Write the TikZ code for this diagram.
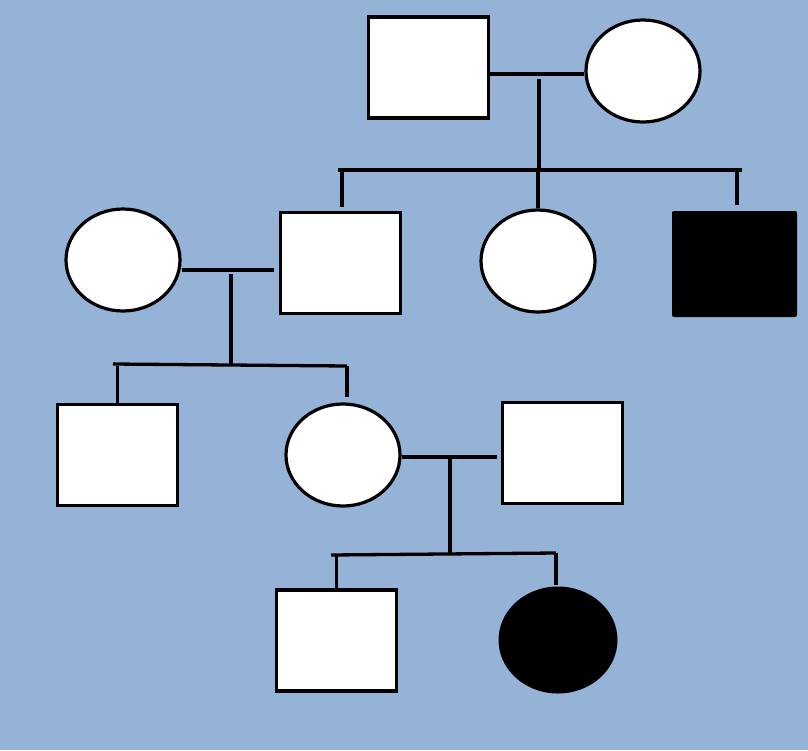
\documentclass[tikz,border=0pt]{standalone}
\usetikzlibrary{shapes.geometric}
\definecolor{bgblue}{RGB}{149,179,215}
\begin{document}
\begin{tikzpicture}[x=1pt,y=-1pt,
  line width=3.3pt,
  male/.style={draw=black,fill=white,rectangle,inner sep=0pt,minimum width=120pt,minimum height=101pt,line width=3.2pt},
  female/.style={draw=black,fill=white,ellipse,inner sep=0pt,minimum width=114pt,minimum height=102pt,line width=3.2pt},
  maleaff/.style={fill=black,rectangle,rounded corners=2pt,inner sep=0pt,minimum width=125pt,minimum height=106pt},
  femaleaff/.style={fill=black,ellipse,inner sep=0pt,minimum width=119pt,minimum height=107pt},
  link/.style={draw=black,line width=3.3pt}]
\fill[bgblue] (0,0) rectangle (808,750);
\useasboundingbox (0,0) rectangle (808,750);
% generation 1
\node[male] (A) at (428.5,67.5) {};
\node[female] (B) at (643,71) {};
% generation 2
\node[female] (C) at (123,260) {};
\node[male] (D) at (340.5,263) {};
\node[female] (E) at (538,261) {};
\node[maleaff] (F) at (734.5,264) {};
% generation 3
\node[male] (G) at (117.5,455) {};
\node[female] (H) at (343,455) {};
\node[male] (I) at (562.5,453) {};
% generation 4
\node[male] (J) at (336.5,640.5) {};
\node[femaleaff] (K) at (558,640) {};
% coordinates
\coordinate (m1) at (539,74);
\coordinate (p1) at (539,79);
\coordinate (s1a) at (338,170);
\coordinate (s1b) at (742,170);
\coordinate (m2) at (231,270);
\coordinate (p2) at (231,274);
\coordinate (s2a) at (113,364);
\coordinate (s2b) at (347,366);
\coordinate (m3) at (450,457);
\coordinate (p3) at (450,459);
\coordinate (s3a) at (331,555);
\coordinate (s3b) at (556,553);
% family 1
\draw[link] (A.east |- m1) -- (B.west |- m1);
\draw[link] (p1) -- (p1 |- s1a);
\draw[link] (s1a) -- (s1b);
\draw[link,shorten >=4pt] ([xshift=1.5pt]D.north |- s1a) -- ([xshift=1.5pt]D.north);
\draw[link] (E.north |- s1a) -- (E.north);
\draw[link,shorten >=4pt] ([xshift=2.5pt]F.north |- s1a) -- ([xshift=2.5pt]F.north);
% family 2
\draw[link,shorten >=5pt] (C.east |- m2) -- (D.west |- m2);
\draw[link] (p2) -- (p2 |- s2a);
\draw[link] (s2a) -- (s2b);
\draw[link] (G.north |- s2b) -- (G.north);
\draw[link,shorten >=5pt] (s2b) -- (s2b |- H.north);
% family 3
\draw[link,shorten >=4pt] (H.east |- m3) -- (I.west |- m3);
\draw[link] (p3) -- (p3 |- s3a);
\draw[link] (s3a) -- (s3b);
\draw[link] (J.north |- s3a) -- (J.north);
\draw[link] (s3b) -- (s3b |- K.north);
\end{tikzpicture}
\end{document}
